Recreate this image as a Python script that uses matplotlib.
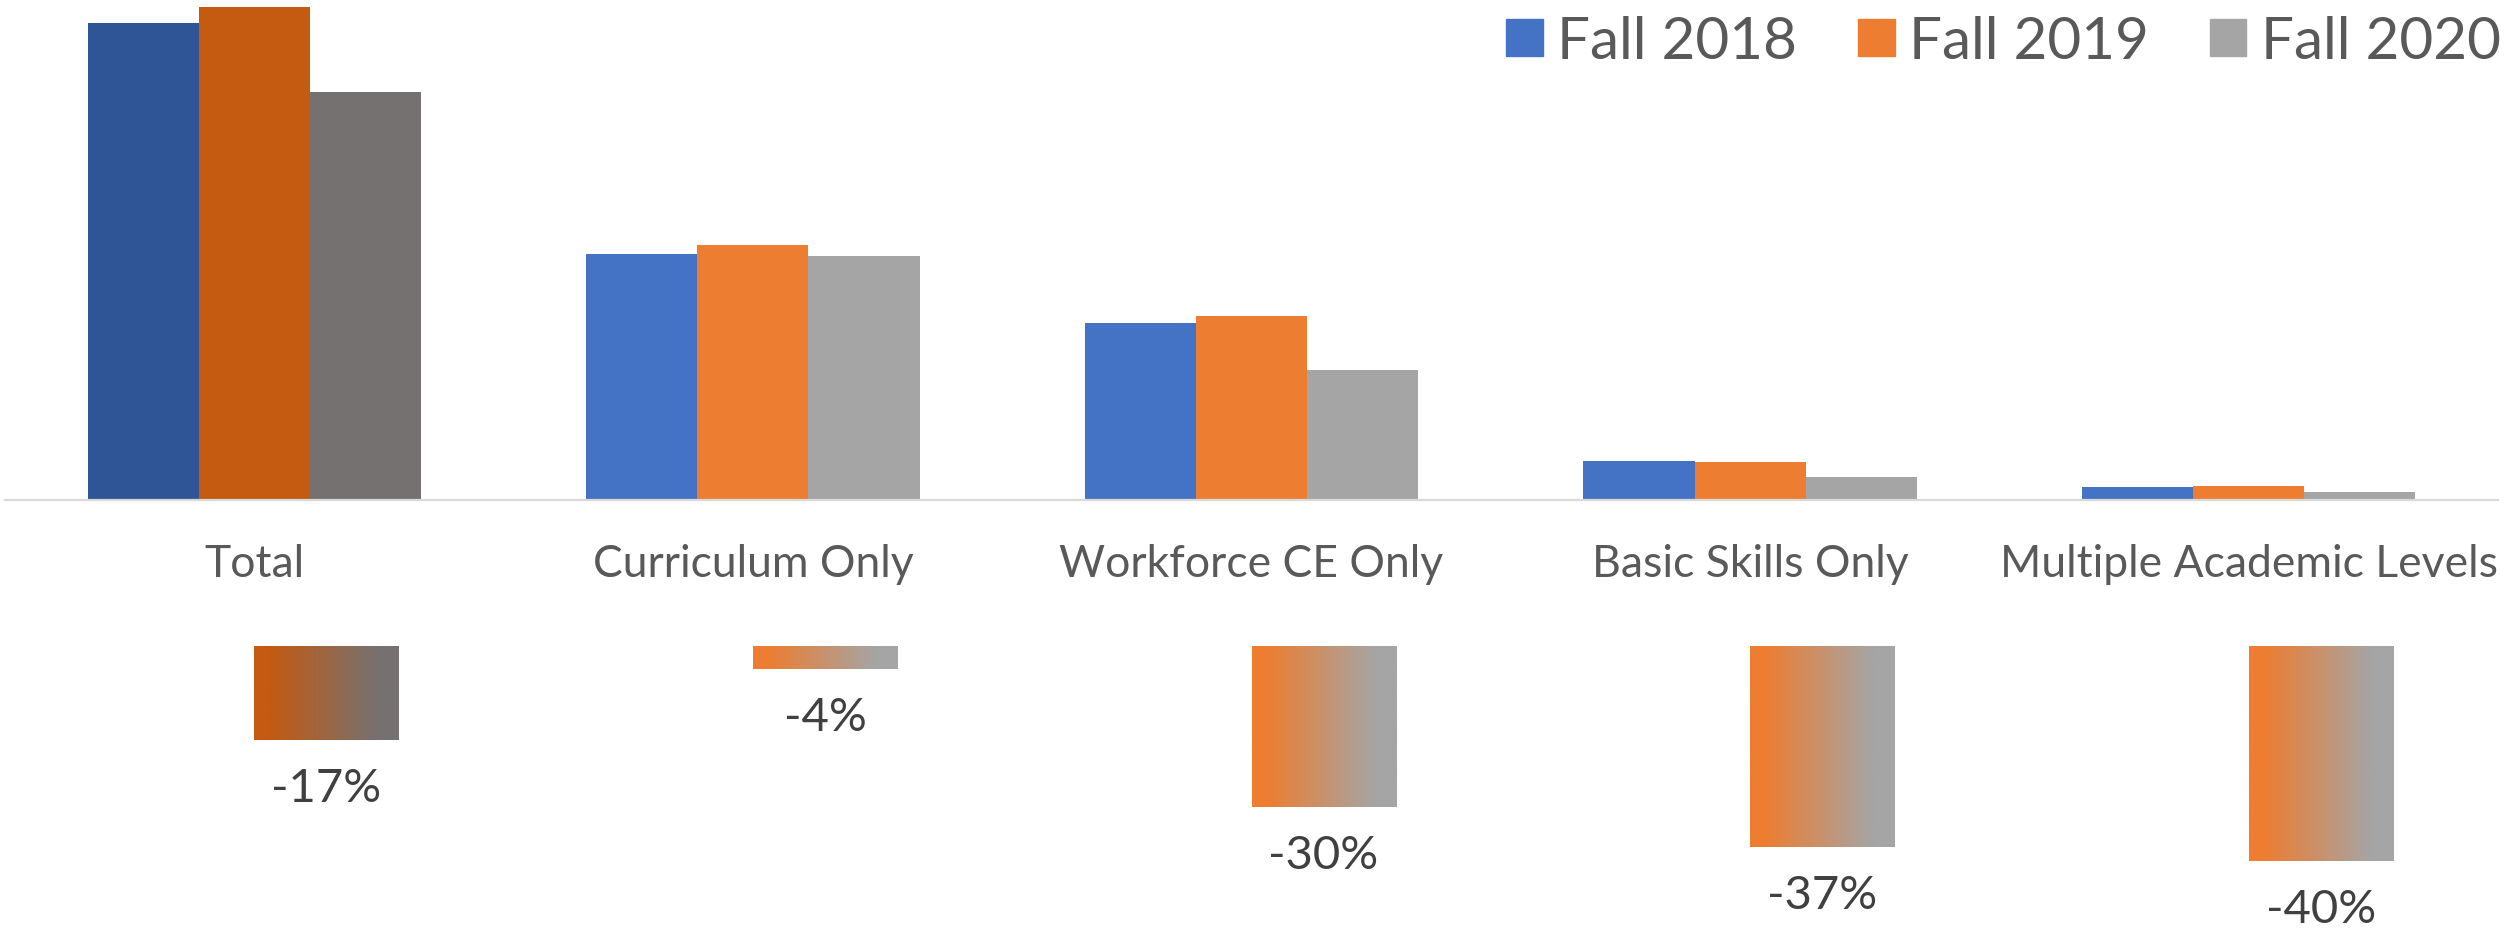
import numpy as np
import matplotlib
matplotlib.use("Agg")
import matplotlib.pyplot as plt
from matplotlib.patches import Patch
from matplotlib.colors import to_rgb

plt.rcParams['font.family'] = ['Lato', 'DejaVu Sans']

categories = ["Total", "Curriculum Only", "Workforce CE Only", "Basic Skills Only",
              "Multiple Academic Levels"]
series = ["Fall 2018", "Fall 2019", "Fall 2020"]
fall_2018 = [286.2, 147.4, 106.0, 23.2, 7.8]
fall_2019 = [296.0, 152.8, 110.4, 22.6, 8.4]
fall_2020 = [244.8, 146.4, 77.8, 14.0, 4.8]
pct_change = [-17.4, -4.2, -29.8, -37.2, -39.8]

light_colors = ["#4472C4", "#ED7D31", "#A5A5A5"]
dark_colors = ["#2F5597", "#C55A11", "#767171"]

W, H = 2509, 937
fig = plt.figure(figsize=(W / 100, H / 100), dpi=100)

# ---- main grouped bar chart ----
ax = fig.add_axes([5 / W, 1 - 501 / H, 2493 / W, 501 / H])
x = np.arange(len(categories))
bw = 0.223
for i, vals in enumerate([fall_2018, fall_2019, fall_2020]):
    cols = [dark_colors[i]] + [light_colors[i]] * (len(categories) - 1)
    ax.bar(x + (i - 1) * bw, vals, bw, color=cols, linewidth=0)
ax.set_xlim(-0.5, len(categories) - 0.5)
ax.set_ylim(0, 300.6)
for s in ["top", "left", "right"]:
    ax.spines[s].set_visible(False)
ax.spines["bottom"].set_color("#D9D9D9")
ax.spines["bottom"].set_linewidth(1.6)
ax.set_yticks([])
ax.set_xticks(x)
ax.set_xticklabels(categories)
ax.tick_params(axis="x", length=0, pad=31, labelsize=32, labelcolor="#595959")

handles = [Patch(color=c, label=s) for c, s in zip(light_colors, series)]
fig.legend(handles=handles, loc="upper right", bbox_to_anchor=(2501 / W, 1 - 16 / H),
           ncol=3, frameon=False, fontsize=42, labelcolor="#595959",
           handlelength=0.62, handleheight=0.62, handletextpad=0.25,
           columnspacing=1.05, borderpad=0, borderaxespad=0)

# ---- percent change gradient bars ----
ax2 = fig.add_axes([5 / W, 0, 2493 / W, 290 / H])
ppp = 5.4  # pixels per percent
gw = 0.289
t = np.linspace(0, 1, 256)
frac = np.clip((t - 0.1) / 0.75, 0, 1)
for i, p in enumerate(pct_change):
    if i == 0:
        c0, c1 = np.array(to_rgb(dark_colors[1])), np.array(to_rgb(dark_colors[2]))
    else:
        c0, c1 = np.array(to_rgb(light_colors[1])), np.array(to_rgb(light_colors[2]))
    grad = (c0[None, :] * (1 - frac[:, None]) + c1[None, :] * frac[:, None])[None, :, :]
    ax2.imshow(grad, extent=(x[i], x[i] + gw, p, 0), aspect="auto",
               interpolation="bilinear", zorder=2)
    ax2.annotate(f"{round(p)}%", xy=(x[i] + gw / 2, p), xytext=(0, -48),
                 textcoords="offset pixels", ha="center", va="center",
                 fontsize=34, color="#404040")
ax2.set_xlim(-0.5, len(categories) - 0.5)
ax2.set_ylim(-290 / ppp, 0)
ax2.axis("off")

fig.savefig("out.png", dpi=100, facecolor="white")
